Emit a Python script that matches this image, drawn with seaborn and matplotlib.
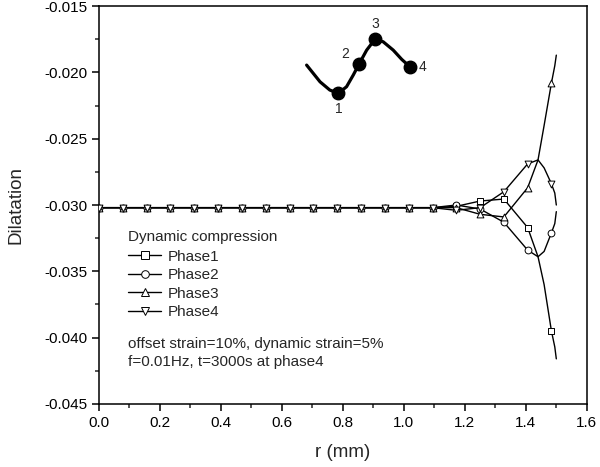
import numpy as np
import pandas as pd
import matplotlib
matplotlib.use("Agg")
import matplotlib.pyplot as plt
from matplotlib.lines import Line2D
from matplotlib.ticker import MultipleLocator
import seaborn as sns

# radial positions of the plotted markers (every 5th mesh point)
r_markers = [0.0, 0.078, 0.156, 0.234, 0.313, 0.391, 0.469, 0.547, 0.625, 0.703,
             0.781, 0.859, 0.938, 1.016, 1.094, 1.172, 1.25, 1.328, 1.406, 1.484]
phase1 = [-0.0302, -0.0302, -0.0302, -0.0302, -0.0302, -0.0302, -0.0302, -0.0302, -0.0302, -0.0302,
          -0.0302, -0.0302, -0.0302, -0.0302, -0.0302, -0.0301, -0.0297, -0.02955, -0.0317, -0.0395]
phase2 = [-0.0302, -0.0302, -0.0302, -0.0302, -0.0302, -0.0302, -0.0302, -0.0302, -0.0302, -0.0302,
          -0.0302, -0.0302, -0.0302, -0.0302, -0.0302, -0.0300, -0.0303, -0.0313, -0.0334, -0.0321]
phase3 = [-0.0302, -0.0302, -0.0302, -0.0302, -0.0302, -0.0302, -0.0302, -0.0302, -0.0302, -0.0302,
          -0.0302, -0.0302, -0.0302, -0.0302, -0.0302, -0.0302, -0.0307, -0.0309, -0.0287, -0.0208]
phase4 = [-0.0302, -0.0302, -0.0302, -0.0302, -0.0302, -0.0302, -0.0302, -0.0302, -0.0302, -0.0302,
          -0.0302, -0.0302, -0.0302, -0.0302, -0.0302, -0.0304, -0.0302, -0.0290, -0.0269, -0.0284]

# extra curve points near the edge (between / after the markers)
r_tail = [1.44, 1.46, 1.495, 1.5]
phase1_tail = [-0.0339, -0.0360, -0.0407, -0.0416]
phase2_tail = [-0.0339, -0.0335, -0.0314, -0.0305]
phase3_tail = [-0.0266, -0.0240, -0.0195, -0.0187]
phase4_tail = [-0.0266, -0.0272, -0.0291, -0.0300]

phase_names = ["Phase1", "Phase2", "Phase3", "Phase4"]
phase_markers = ["s", "o", "^", "v"]

# loading waveform sketch (drawn in data units)
wave_r = [0.681, 0.725, 0.757, 0.785, 0.812, 0.834, 0.853, 0.878, 0.905, 0.932, 0.965, 0.993, 1.020]
wave_v = [-0.01945, -0.02071, -0.02133, -0.02158, -0.02108, -0.02020, -0.01937, -0.01832,
          -0.01751, -0.01769, -0.01832, -0.01902, -0.01958]
dot_r = [0.785, 0.853, 0.905, 1.020]
dot_v = [-0.02158, -0.01937, -0.01751, -0.01958]
dot_labels = ["1", "2", "3", "4"]

sns.set_style("ticks")
plt.rcParams["font.family"] = ["Liberation Sans", "DejaVu Sans"]

fig = plt.figure(figsize=(6, 4.67), dpi=100)
ax = fig.add_axes([0.165, 0.135, 0.813, 0.852])

marker_vals = [phase1, phase2, phase3, phase4]
tail_vals = [phase1_tail, phase2_tail, phase3_tail, phase4_tail]
for name, mk, mv, tv in zip(phase_names, phase_markers, marker_vals, tail_vals):
    line_df = pd.DataFrame({"r": r_markers + r_tail, "v": mv + tv}).sort_values("r")
    sns.lineplot(data=line_df, x="r", y="v", color="black", lw=1.0, sort=False,
                 estimator=None, ax=ax)
    mark_df = pd.DataFrame({"r": r_markers, "v": mv})
    sns.scatterplot(data=mark_df, x="r", y="v", marker=mk, s=24, facecolor="white",
                    edgecolor="black", linewidth=0.7, zorder=3, ax=ax)

# waveform inset
sns.lineplot(x=wave_r, y=wave_v, color="black", lw=2.3, sort=False, estimator=None, ax=ax)
ax.plot(dot_r, dot_v, "o", color="black", ms=9, zorder=4)
offsets = [(0, -11), (-10, 7), (0, 11), (9, 0)]
for rr, vv, lab, off in zip(dot_r, dot_v, dot_labels, offsets):
    ax.annotate(lab, (rr, vv), xytext=off, textcoords="offset points",
                ha="center", va="center", fontsize=10)

ax.set_xlim(0, 1.6)
ax.set_ylim(-0.045, -0.015)
ax.xaxis.set_major_locator(MultipleLocator(0.2))
ax.xaxis.set_minor_locator(MultipleLocator(0.1))
ax.yaxis.set_major_locator(MultipleLocator(0.005))
ax.yaxis.set_minor_locator(MultipleLocator(0.0025))
ax.xaxis.set_major_formatter(matplotlib.ticker.FormatStrFormatter("%.1f"))
ax.yaxis.set_major_formatter(matplotlib.ticker.FormatStrFormatter("%.3f"))
ax.tick_params(which="major", direction="out", length=5, width=1.1, labelsize=11, colors="black")
ax.tick_params(which="minor", direction="out", length=3, width=1.1)
for sp in ax.spines.values():
    sp.set_linewidth(1.1)
    sp.set_color("black")

ax.set_xlabel("r (mm)", fontsize=13.5, labelpad=10)
ax.set_ylabel("Dilatation", fontsize=13.5, labelpad=14)

handles = [Line2D([], [], color="black", lw=1.0, marker=mk, ms=5.5, mfc="white",
                  mec="black", mew=0.7) for mk in phase_markers]
leg = ax.legend(handles, phase_names, title="Dynamic compression", loc="upper left",
                bbox_to_anchor=(0.059, 0.437), frameon=False, fontsize=11, title_fontsize=11,
                borderpad=0, borderaxespad=0, handlelength=2.2, handletextpad=0.4,
                labelspacing=0.3, alignment="left")
leg._legend_box.sep = 4

ax.text(0.059, 0.15, "offset strain=10%, dynamic strain=5%", transform=ax.transAxes,
        fontsize=11, va="center", ha="left")
ax.text(0.059, 0.105, "f=0.01Hz, t=3000s at phase4", transform=ax.transAxes,
        fontsize=11, va="center", ha="left")

fig.savefig("out.png", dpi=100)
